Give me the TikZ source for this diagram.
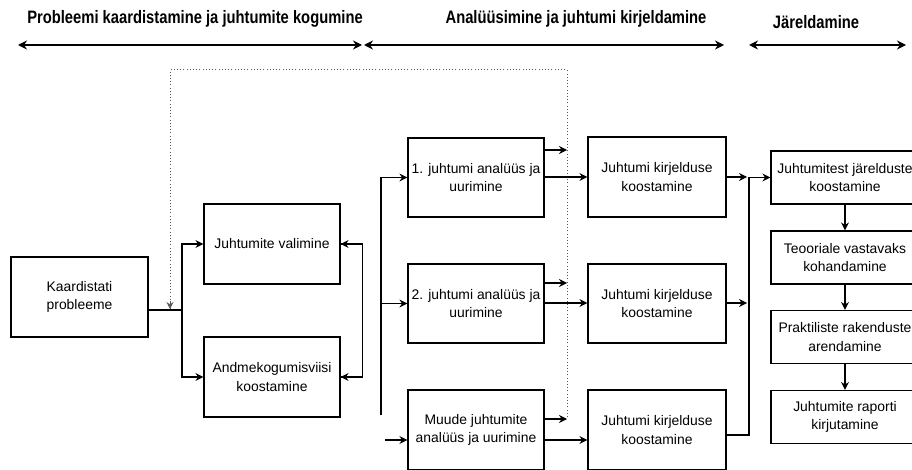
\documentclass[tikz,border=0pt]{standalone}
\usepackage{fontspec}
\setmainfont{Liberation Sans}
\newfontfamily\hdrfont[FakeStretch=0.82]{Liberation Sans}
\usetikzlibrary{arrows.meta,calc}
\begin{document}
\begin{tikzpicture}[x=1pt,y=-1pt,
  box/.style={draw,line width=1.2pt,align=center,inner sep=1pt,
    font=\fontsize{13.9}{18.5}\selectfont},
  conn/.style={line width=1.2pt},
  arr/.style={conn,-{Stealth[length=8pt,width=8pt]}},
  hdr/.style={font=\hdrfont\bfseries\fontsize{18}{20}\selectfont},
  harr/.style={line width=1.8pt,{Stealth[length=9pt,width=9pt]}-{Stealth[length=9pt,width=9pt]}},
  dot/.style={line width=1pt,black!65,dash pattern=on 1pt off 2.2pt}]
\useasboundingbox (0,0) rectangle (912,470);
\clip (0,0) rectangle (912,470);
% headers
\node[hdr] (h1) at (195,18.5) {Probleemi kaardistamine ja juhtumite kogumine};
\node[hdr] (h2) at (576,18.5) {Analüüsimine ja juhtumi kirjeldamine};
\node[hdr] (h3) at (816,22.5) {Järeldamine};
\coordinate (ha1) at (18,45); \coordinate (hb1) at (362,45);
\coordinate (ha2) at (364,45); \coordinate (hb2) at (724,45);
\coordinate (ha3) at (749,45); \coordinate (hb3) at (906,45);
\draw[harr] (ha1) -- (hb1);
\draw[harr] (ha2) -- (hb2);
\draw[harr] (ha3) -- (hb3);
% boxes
\node[box,minimum width=137pt,minimum height=80pt] (kp) at (79.5,297) {Kaardistati\\probleeme};
\node[box,minimum width=136pt,minimum height=80pt] (jv) at (272,244) {Juhtumite valimine};
\node[box,minimum width=136pt,minimum height=80pt] (ak) at (272,377) {Andmekogumisviisi\\koostamine};
\node[box,minimum width=136pt,minimum height=79pt] (a1) at (476,177.5) {1. juhtumi analüüs ja\\uurimine};
\node[box,minimum width=136pt,minimum height=79pt] (a2) at (476,303.5) {2. juhtumi analüüs ja\\uurimine};
\node[box,minimum width=136pt,minimum height=80pt] (a3) at (476,430) {Muude juhtumite\\analüüs ja uurimine};
\node[box,minimum width=138pt,minimum height=80pt] (k1) at (657,177) {Juhtumi kirjelduse\\koostamine};
\node[box,minimum width=138pt,minimum height=79pt] (k2) at (657,303.5) {Juhtumi kirjelduse\\koostamine};
\node[box,minimum width=138pt,minimum height=80pt] (k3) at (657,430) {Juhtumi kirjelduse\\koostamine};
\node[box,minimum width=148pt,minimum height=53pt] (r1) at (845,177.5) {Juhtumitest järelduste\\koostamine};
\node[box,minimum width=148pt,minimum height=53pt] (r2) at (845,257.5) {Teooriale vastavaks\\kohandamine};
\node[box,minimum width=148pt,minimum height=53pt] (r3) at (845,337) {Praktiliste rakenduste\\arendamine};
\node[box,minimum width=148pt,minimum height=53pt] (r4) at (845,417) {Juhtumite raporti\\kirjutamine};
% left part
\coordinate (j1) at (182,310);
\draw[conn] (kp.east |- j1) -- (j1);
\draw[arr] (j1) |- (jv.west);
\draw[arr] (j1) |- (ak.west);
\draw[arr] (jv.east) -- ++(22,0) |- (ak.east);
\draw[arr] (ak.east) -- ++(22,0) |- (jv.east);
% dotted feedback
\coordinate (d1) at (567,417); \coordinate (d2) at (567,70);
\coordinate (d3) at (170,70); \coordinate (d4) at (170,309);
\draw[dot] (d1) -- (d2) -- (d3) -- (d4);
\draw[conn,black!65,line width=1pt,-{Stealth[length=7pt,width=7pt]}] ($(d4)+(0,-8)$) -- (d4);
% analysis inputs
\coordinate (v1) at (381,177.5); \coordinate (v2) at (381,415);
\coordinate (m0) at (385,440);
\draw[conn] (v2) -- (v1);
\draw[arr] (v1) -- (a1.west);
\draw[arr] (v1 |- a2.west) -- (a2.west);
\draw[arr] (m0) -- (a3.west |- m0);
% analysis outputs to dotted line
\draw[arr] (a1.east |- 0,150) -- (d2 |- 0,150);
\draw[arr] (a2.east |- 0,283) -- (d2 |- 0,283);
\draw[arr] (a3.east |- 0,419) -- (d2 |- 0,419);
% analysis to description
\draw[arr] (a1.east |- 0,177) -- (k1.west |- 0,177);
\draw[arr] (a2.east |- 0,303) -- (k2.west |- 0,303);
\draw[arr] (a3.east |- 0,440) -- (k3.west |- 0,440);
% description to conclusion
\coordinate (w1) at (749,177.5); \coordinate (w2) at (749,435);
\draw[arr] (k1.east |- 0,177) -- (747,177);
\draw[arr] (k2.east |- 0,303) -- (747,303);
\draw[conn] (k3.east |- w2) -- (w2) -- (w1);
\draw[arr] (w1) -- (r1.west);
\draw[arr] (r1) -- (r2);
\draw[arr] (r2) -- (r3);
\draw[arr] (r3) -- (r4);
\end{tikzpicture}
\end{document}
